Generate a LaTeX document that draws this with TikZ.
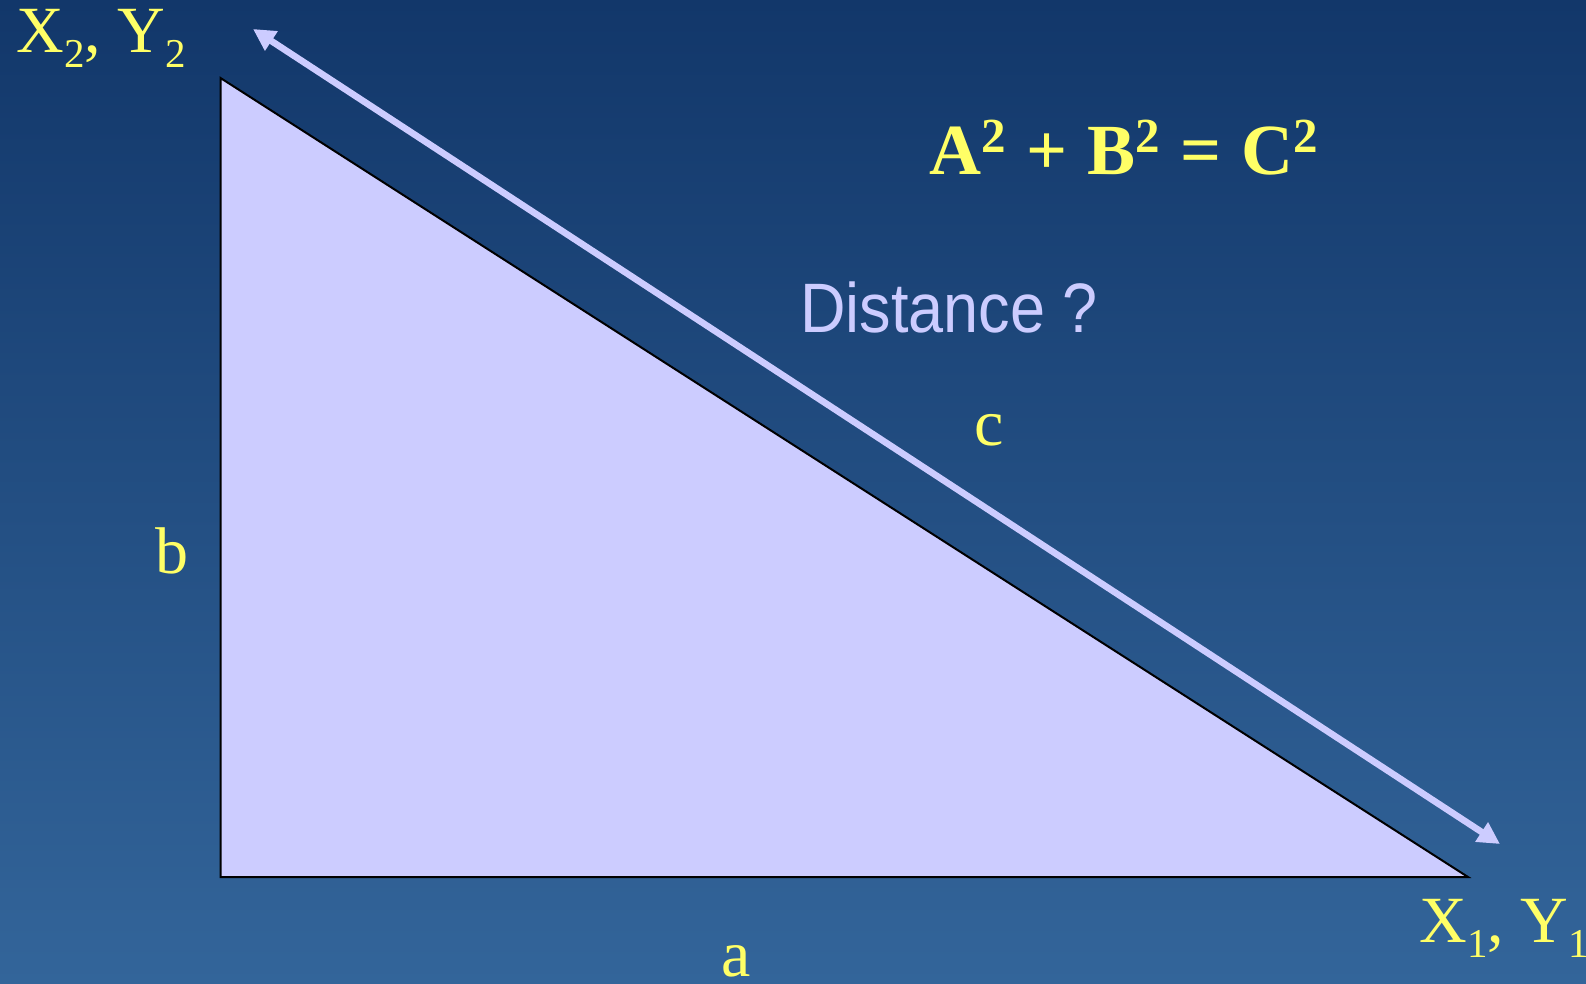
\documentclass[tikz,border=0pt]{standalone}
\usepackage{fontspec}
\setmainfont{Liberation Serif}
\newfontfamily\arialf{Liberation Sans}
\usetikzlibrary{arrows.meta}
\definecolor{bgtop}{HTML}{12376A}
\definecolor{bgbot}{HTML}{33659A}
\definecolor{lav}{HTML}{CCCCFF}
\definecolor{ylw}{HTML}{FFFF66}
\tikzset{
  lbl/.style={text=ylw, inner sep=0pt, anchor=base west, font=\fontsize{33}{36}\selectfont},
  tri/.style={fill=lav, draw=black, line width=1pt, line join=miter},
  dist/.style={draw=lav, line width=3.3pt, {Triangle[length=11pt,width=11pt]}-{Triangle[length=11pt,width=11pt]}},
}
\newcommand{\subtwo}[1]{\raisebox{-7.5pt}{\fontsize{20.5}{22}\selectfont #1}}
\newcommand{\suptwo}{\raisebox{11pt}{\fontsize{24.5}{26}\selectfont\bfseries 2}}
\begin{document}
\begin{tikzpicture}[x=0.5pt,y=-0.5pt]
\shade[top color=bgtop, bottom color=bgbot] (0,0) rectangle (1586,984);
\useasboundingbox (0,0) rectangle (1586,984);
\coordinate (T) at (220.5,78);
\coordinate (L) at (220.5,877);
\coordinate (R) at (1468,877);
\coordinate (A1) at (253,29);
\coordinate (A2) at (1500,844);
\draw[tri] (T) -- (L) -- (R) -- cycle;
\draw[dist] (A1) -- (A2);
\node[lbl] (p2) at (16,53) {X\subtwo{2}, Y\subtwo{2}};
\node[lbl] (p1) at (1419,942) {X\subtwo{1}, Y\subtwo{1}};
\node[lbl] (lb) at (155,573) {b};
\node[lbl] (la) at (721,976) {a};
\node[lbl] (lc) at (974,445) {c};
\node[lbl, font=\fontsize{36}{40}\selectfont\bfseries] (eq) at (929,175) {A\suptwo\hspace{1.1pt}\ +\ \hspace{1.1pt}B\suptwo\hspace{1.1pt}\ =\ \hspace{1.1pt}C\suptwo};
\node[inner sep=0pt, anchor=base west, text=lav] (dq) at (800,333) {\scalebox{0.90}[1]{\arialf\fontsize{35}{40}\selectfont Distance ?}};
\end{tikzpicture}
\end{document}
